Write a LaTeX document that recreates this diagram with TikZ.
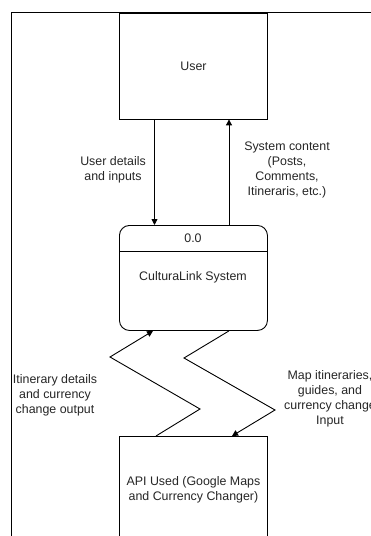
\documentclass[tikz,border=0pt]{standalone}
\usepackage{fontspec}
\setmainfont{Liberation Sans}
\usetikzlibrary{arrows.meta}
\begin{document}
\begin{tikzpicture}[x=1pt,y=-1pt,
  every node/.style={font=\fontsize{12.4}{15}\selectfont, text=black!85},
  lbl/.style={align=center, inner sep=0pt},
  boxnode/.style={draw, line width=0.9pt, minimum width=148pt, inner sep=0pt},
  flow/.style={line width=0.9pt, -{Triangle[length=6pt,width=6pt]}}
]
\useasboundingbox (0,0) rectangle (371,536);
\clip (0,0) rectangle (371,536);
\fill[white] (0,0) rectangle (371,536);
% outer frame
\draw[line width=1pt] (11.7,600) -- (11.7,12) -- (400,12);
% boxes
\node[boxnode, minimum height=106pt, anchor=north west] (user) at (119,12.5) {User};
\node[boxnode, minimum height=105pt, anchor=north west, rounded corners=10pt] (proc) at (119,225) {};
\draw[line width=0.9pt] (119,251.5) coordinate (dl) -- (267,251.5) coordinate (dr);
\node (num) at (193,238.5) {0.0};
\node (sys) at (193,277) {CulturaLink System};
\node[boxnode, minimum height=106pt, anchor=north west, align=center] (api) at (119,436) {API Used (Google Maps\\and Currency Changer)};
% user <-> process
\draw[flow] (user.south -| 154.5,0) -- (proc.north -| 154.5,0);
\draw[flow] (proc.north -| 229,0) -- (user.south -| 229,0);
\node[lbl] (l1) at (113,170) {User details\\and inputs};
\node[lbl] (l2) at (287,170) {System content\\(Posts,\\Comments,\\Itineraris, etc.)};
% zigzags
\coordinate (a1) at (200,409);
\coordinate (a2) at (110,357);
\draw[flow] (api.north -| 156,0) -- (a1) -- (a2) -- (proc.south -| 153,0);
\coordinate (b1) at (184,358);
\coordinate (b2) at (275,410);
\draw[flow] (proc.south -| 229,0) -- (b1) -- (b2) -- (api.north -| 232,0);
\node[lbl] (l3) at (55,395) {Itinerary details\\and currency\\change output};
\node[lbl] (l4) at (330,399) {Map itineraries,\\guides, and\\currency change\\Input};
\end{tikzpicture}
\end{document}
